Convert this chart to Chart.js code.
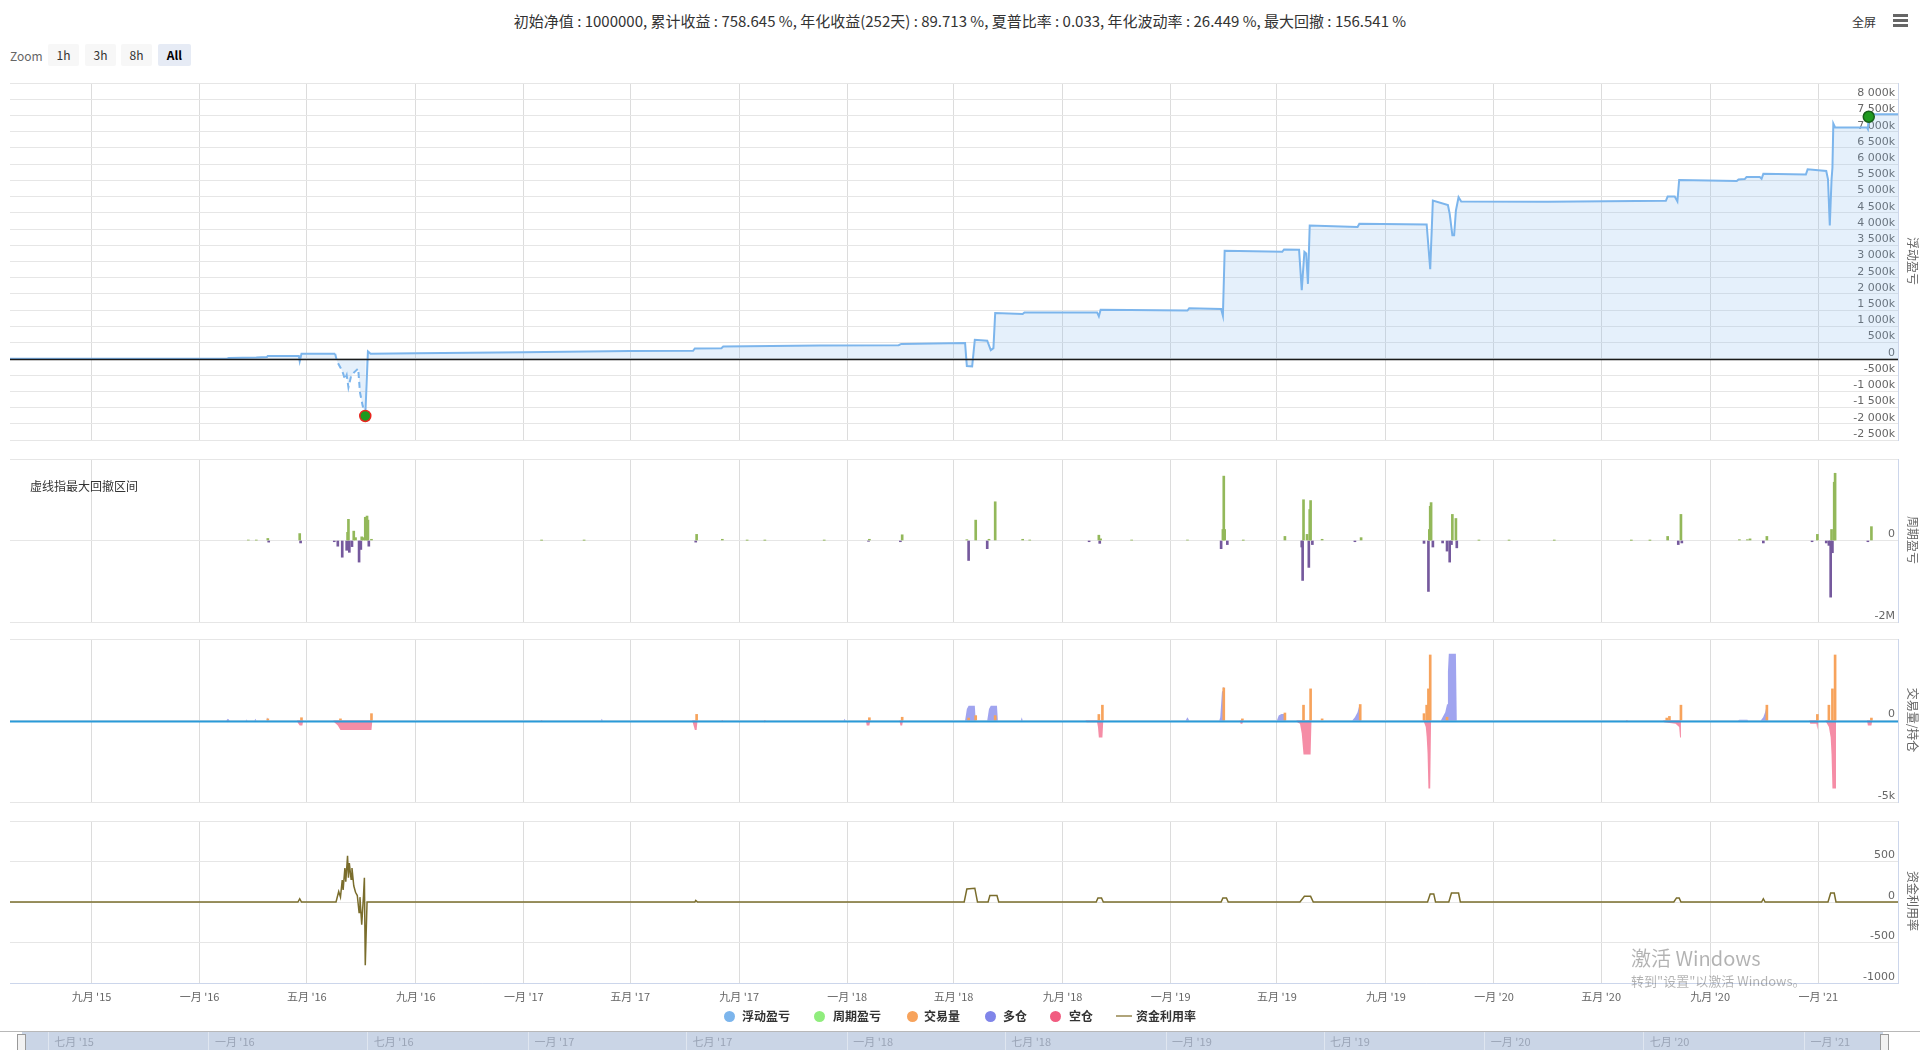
<!DOCTYPE html>
<html>
<head>
<meta charset="utf-8">
<script src="https://cdn.jsdelivr.net/npm/chart.js@4.4.1/dist/chart.umd.min.js"></script>
<style>
  html, body { margin: 0; padding: 0; width: 1920px; height: 1050px; overflow: hidden; background: #fff;
    font-family: "Noto Sans CJK SC", "Noto Sans", sans-serif; }
  canvas { position: absolute; left: 0; }
  .abs { position: absolute; white-space: nowrap; }
  .btn { position: absolute; top: 44px; height: 22px; line-height: 22px; background: #f7f7f7; color: #333;
    font-size: 12px; text-align: center; border-radius: 2px; }
  .ytitle { position: absolute; left: 1913px; font-size: 12px; color: #666; white-space: nowrap;
    transform: translate(-50%, -50%) rotate(90deg); }
  .dot { position: absolute; width: 11px; height: 11px; border-radius: 50%; top: 1011px; }
  .lg { position: absolute; top: 1007px; font-size: 12px; font-weight: bold; color: #333; line-height: 18px; }
</style>
</head>
<body>
<div class="abs" id="title" style="top:10px;left:0;width:1920px;text-align:center;font-size:15px;color:#333;"></div>
<div class="abs" style="top:13px;left:1852px;font-size:12px;color:#333;">全屏</div>
<div class="abs" style="top:14px;left:1893px;width:15px;height:3px;background:#666;"></div>
<div class="abs" style="top:19px;left:1893px;width:15px;height:3px;background:#666;"></div>
<div class="abs" style="top:24px;left:1893px;width:15px;height:3px;background:#666;"></div>

<div class="abs" style="top:47px;left:10px;font-size:12px;color:#666;">Zoom</div>
<div class="btn" style="left:48px;width:31px;">1h</div>
<div class="btn" style="left:85px;width:31px;">3h</div>
<div class="btn" style="left:121px;width:31px;">8h</div>
<div class="btn" style="left:158px;width:33px;background:#e6ebf5;font-weight:bold;color:#000;">All</div>

<canvas id="c1" width="1920" height="371" style="top:76px;"></canvas>
<canvas id="c2" width="1920" height="173" style="top:454px;"></canvas>
<canvas id="c3" width="1920" height="173" style="top:634px;"></canvas>
<canvas id="c4" width="1920" height="200" style="top:816px;"></canvas>
<canvas id="cn" width="1920" height="40" style="top:1031px;"></canvas>

<div class="abs" style="top:477px;left:30px;font-size:12px;color:#333;">虚线指最大回撤区间</div>

<div class="ytitle" style="top:261px;">浮动盈亏</div>
<div class="ytitle" style="top:540px;">周期盈亏</div>
<div class="ytitle" style="top:720px;">交易量/持仓</div>
<div class="ytitle" style="top:901px;">资金利用率</div>

<div class="dot" style="left:724px;background:#7cb5ec;"></div><div class="lg" style="left:742px;">浮动盈亏</div>
<div class="dot" style="left:814px;background:#90ed7d;"></div><div class="lg" style="left:833px;">周期盈亏</div>
<div class="dot" style="left:907px;background:#f7a35c;"></div><div class="lg" style="left:924px;">交易量</div>
<div class="dot" style="left:985px;background:#8085e9;"></div><div class="lg" style="left:1003px;">多仓</div>
<div class="dot" style="left:1050px;background:#f15c80;"></div><div class="lg" style="left:1069px;">空仓</div>
<div class="abs" style="top:1015px;left:1116px;width:16px;height:2px;background:#b0a47a;"></div><div class="lg" style="left:1136px;">资金利用率</div>

<div class="abs" style="top:943px;left:1631px;font-size:20px;color:rgba(0,0,0,0.3);">激活 Windows</div>
<div class="abs" style="top:971px;left:1631px;font-size:13px;color:rgba(0,0,0,0.3);">转到"设置"以激活 Windows。</div>

<div class="abs" style="top:1031px;left:0;width:1920px;height:1px;background:#b8b8b8;"></div>
<div class="abs" style="top:1034px;left:17px;width:7px;height:15px;background:#f2f2f2;border:1px solid #999;"></div>
<div class="abs" style="top:1034px;left:1880px;width:7px;height:15px;background:#f2f2f2;border:1px solid #999;"></div>

<script>
// ---- data ----
const titleText = "初始净值 : 1000000, 累计收益 : 758.645 %, 年化收益(252天) : 89.713 %, 夏普比率 : 0.033, 年化波动率 : 26.449 %, 最大回撤 : 156.541 %";

const xTickDates = ['2015-09-01','2016-01-01','2016-05-01','2016-09-01','2017-01-01','2017-05-01','2017-09-01','2018-01-01','2018-05-01','2018-09-01','2019-01-01','2019-05-01','2019-09-01','2020-01-01','2020-05-01','2020-09-01','2021-01-01'];
const xTickLabels = ["九月 '15","一月 '16","五月 '16","九月 '16","一月 '17","五月 '17","九月 '17","一月 '18","五月 '18","九月 '18","一月 '19","五月 '19","九月 '19","一月 '20","五月 '20","九月 '20","一月 '21"];
const navTickDates = ['2015-07-01','2016-01-01','2016-07-01','2017-01-01','2017-07-01','2018-01-01','2018-07-01','2019-01-01','2019-07-01','2020-01-01','2020-07-01','2021-01-01'];
const navTickLabels = ["七月 '15","一月 '16","七月 '16","一月 '17","七月 '17","一月 '18","七月 '18","一月 '19","七月 '19","一月 '20","七月 '20","一月 '21"];

// 浮动盈亏
const pnlDates = ['2015-06-01','2015-10-15','2016-01-31','2016-02-03','2016-03-05','2016-03-17','2016-03-18','2016-04-22','2016-04-23','2016-04-25',
  '2016-06-02','2016-06-04','2016-06-09','2016-06-11','2016-06-13','2016-06-15','2016-06-17','2016-06-20','2016-06-24','2016-06-28',
  '2016-06-30','2016-07-03','2016-07-06','2016-07-09','2016-07-12','2016-09-01','2017-01-01','2017-05-01','2017-07-11','2017-07-13',
  '2017-08-12','2017-08-14','2017-12-01','2018-02-28','2018-03-03','2018-05-14','2018-05-16','2018-05-22','2018-05-25','2018-06-08',
  '2018-06-12','2018-06-15','2018-06-17','2018-07-18','2018-07-20','2018-10-10','2018-10-12','2018-10-14','2019-01-20','2019-01-22',
  '2019-02-27','2019-03-01','2019-03-03','2019-05-07','2019-05-09','2019-05-26','2019-05-29','2019-06-01','2019-06-03','2019-06-05',
  '2019-06-07','2019-07-31','2019-08-02','2019-10-17','2019-10-21','2019-10-24','2019-11-10','2019-11-12','2019-11-15','2019-11-17',
  '2019-11-19','2019-11-22','2019-11-25','2020-03-01','2020-07-13','2020-07-15','2020-07-23','2020-07-26','2020-07-28','2020-10-01',
  '2020-10-03','2020-10-10','2020-10-12','2020-10-27','2020-10-29','2020-10-31','2020-12-18','2020-12-20','2021-01-10','2021-01-12',
  '2021-01-14','2021-01-16','2021-01-17','2021-01-18','2021-01-20','2021-02-25','2021-02-26','2021-02-27','2021-03-01','2021-04-01'];
const pnlValues = [0, 0, 0, 30000, 40000, 60000, 90000, 90000, -70000, 160000,
  160000, -70000, -320000, -450000, -630000, -500000, -880000, -530000, -400000, -300000,
  -1030000, -1440000, -1760000, 230000, 160000, 170000, 200000, 240000, 250000, 320000,
  330000, 380000, 410000, 420000, 460000, 490000, -220000, -230000, 590000, 560000,
  270000, 330000, 1410000, 1380000, 1430000, 1430000, 1310000, 1510000, 1490000, 1560000,
  1540000, 1330000, 3330000, 3300000, 3370000, 3360000, 2120000, 3300000, 3250000, 2310000,
  4110000, 4060000, 4160000, 4140000, 2760000, 4880000, 4740000, 4470000, 3810000, 3810000,
  4570000, 4980000, 4850000, 4840000, 4870000, 5000000, 5000000, 4850000, 5510000, 5480000,
  5530000, 5540000, 5600000, 5600000, 5550000, 5700000, 5680000, 5840000, 5790000, 5530000,
  4110000, 5530000, 5890000, 7250000, 7130000, 7130000, 7080000, 7460000, 7540000, 7540000];
// 最大回撤区间 (dashed) and its markers
const ddStart = '2016-06-02', ddEnd = '2016-07-06';
const markerDates = ['2016-07-06', '2021-02-27'];
const markerValues = [-1760000, 7460000];

// 周期盈亏
const cycleDates = ['2016-02-25','2016-03-05','2016-03-18','2016-03-19','2016-04-23','2016-04-24','2016-06-01','2016-06-05','2016-06-10','2016-06-15',
  '2016-06-16','2016-06-17','2016-06-18','2016-06-21','2016-06-23','2016-06-25','2016-06-29','2016-07-01','2016-07-02','2016-07-04',
  '2016-07-06','2016-07-08','2016-07-09','2016-07-10','2016-07-13','2017-01-21','2017-03-10','2017-07-14','2017-07-15','2017-08-13',
  '2017-09-10','2017-09-30','2017-12-06','2018-01-25','2018-01-26','2018-03-02','2018-03-04','2018-05-16','2018-05-18','2018-05-26',
  '2018-06-08','2018-06-10','2018-06-17','2018-07-18','2018-07-26','2018-10-01','2018-10-12','2018-10-13','2018-10-14','2018-11-18',
  '2019-01-20','2019-02-27','2019-03-01','2019-03-02','2019-03-03','2019-03-06','2019-03-24','2019-05-10','2019-05-29','2019-05-30',
  '2019-05-31','2019-06-04','2019-06-06','2019-06-07','2019-06-08','2019-06-10','2019-06-21','2019-07-28','2019-08-04','2019-10-14',
  '2019-10-19','2019-10-20','2019-10-21','2019-10-22','2019-10-24','2019-11-04','2019-11-09','2019-11-12','2019-11-14','2019-11-15',
  '2019-11-19','2019-11-20','2019-12-15','2020-01-18','2020-03-09','2020-06-04','2020-06-25','2020-07-15','2020-07-27','2020-07-30',
  '2020-07-31','2020-10-04','2020-10-13','2020-10-16','2020-10-31','2020-11-04','2020-12-25','2020-12-31','2021-01-10','2021-01-13',
  '2021-01-15','2021-01-16','2021-01-17','2021-01-19','2021-01-20','2021-02-26','2021-03-02'];
const cycleValues = [10000, 8000, 50000, -40000, 170000, -60000, -30000, -140000, -410000, -240000,
  200000, 520000, -290000, -150000, 230000, 70000, -530000, -220000, 90000, 70000,
  570000, 600000, 500000, -140000, 30000, 5000, 5000, -40000, 150000, 30000,
  5000, 5000, 5000, -20000, 30000, -30000, 140000, 20000, -490000, 500000,
  -200000, 30000, 950000, 30000, 8000, -30000, 130000, -70000, 40000, 8000,
  10000, -200000, 270000, 1580000, 270000, -100000, 5000, 100000, -160000, -980000,
  1000000, 150000, -660000, 760000, 980000, -100000, 30000, -30000, 70000, -70000,
  -1250000, 270000, 840000, 930000, -160000, -60000, -260000, -530000, -100000, 640000,
  540000, -180000, 5000, 5000, 5000, 3000, 3000, 100000, -100000, 640000,
  -60000, 20000, 20000, 40000, -60000, 100000, -30000, 150000, -60000, -120000,
  -1390000, 270000, -300000, 1430000, 1650000, -30000, 340000];

// 交易量
const volDates = ['2016-03-18','2016-04-25','2016-06-08','2016-07-13','2017-07-15','2018-01-26','2018-03-04','2018-05-18','2018-05-26','2018-06-17',
  '2018-10-12','2018-10-16','2019-03-02','2019-03-23','2019-05-10','2019-05-31','2019-06-08','2019-06-21','2019-08-03','2019-10-14',
  '2019-10-17','2019-10-19','2019-10-21','2019-11-09','2020-07-14','2020-07-17','2020-07-30','2020-11-04','2020-12-31','2021-01-13',
  '2021-01-17','2021-01-20','2021-03-02'];
const volValues = [100, 170, 100, 420, 375, 170, 200, 150, 300, 300,
  370, 940, 2000, 100, 460, 940, 1940, 100, 980, 420,
  940, 1940, 4020, 200, 150, 250, 940, 940, 370, 940,
  1940, 4020, 150];

// 多仓
const longDates = ['2015-06-01','2016-01-31','2016-02-02','2016-02-04','2016-02-22','2016-02-23','2016-02-24','2016-03-03','2016-03-04','2016-03-05',
  '2016-03-16','2016-03-17','2016-03-19','2017-03-29','2017-03-30','2017-03-31','2017-12-28','2017-12-29','2017-12-30','2018-05-14',
  '2018-05-16','2018-05-18','2018-05-25','2018-05-26','2018-06-08','2018-06-10','2018-06-12','2018-06-19','2018-06-20','2018-07-16',
  '2018-07-17','2018-07-18','2019-01-18','2019-01-20','2019-01-22','2019-02-25','2019-02-26','2019-02-27','2019-02-28','2019-03-01',
  '2019-03-02','2019-03-03','2019-05-01','2019-05-03','2019-05-06','2019-05-10','2019-05-11','2019-07-25','2019-07-28','2019-07-31',
  '2019-08-02','2019-08-03','2019-08-04','2019-11-02','2019-11-04','2019-11-07','2019-11-09','2019-11-10','2019-11-11','2019-11-19',
  '2019-11-20','2020-10-02','2020-10-04','2020-10-13','2020-10-14','2020-10-28','2020-10-31','2020-11-02','2020-11-04','2020-11-05',
  '2021-04-01'];
const longValues = [0, 0, 100, 0, 0, 60, 0, 0, 100, 0,
  0, 200, 0, 0, 100, 0, 0, 100, 0, 0,
  700, 900, 900, 0, 0, 700, 900, 900, 0, 0,
  200, 0, 0, 200, 0, 0, 200, 1000, 1800, 2040,
  2040, 0, 0, 300, 400, 400, 0, 0, 200, 500,
  940, 940, 0, 0, 200, 500, 1000, 3000, 4100, 4100,
  0, 0, 50, 50, 0, 0, 200, 500, 940, 0,
  0];

// 空仓
const shortDates = ['2015-06-01','2016-02-01','2016-02-02','2016-02-03','2016-04-20','2016-04-21','2016-04-23','2016-04-26','2016-04-27','2016-05-31',
  '2016-06-01','2016-06-05','2016-06-08','2016-07-13','2016-07-14','2017-01-20','2017-01-21','2017-01-22','2017-07-10','2017-07-11',
  '2017-07-13','2017-07-15','2017-07-16','2017-08-12','2017-08-13','2017-08-14','2017-09-29','2017-09-30','2017-10-01','2018-01-22',
  '2018-01-23','2018-01-26','2018-01-27','2018-03-01','2018-03-02','2018-03-04','2018-03-05','2018-09-27','2018-09-28','2018-10-10',
  '2018-10-11','2018-10-12','2018-10-16','2018-10-17','2019-03-20','2019-03-21','2019-03-23','2019-03-24','2019-05-23','2019-05-24',
  '2019-05-27','2019-05-29','2019-05-31','2019-06-08','2019-06-09','2019-10-13','2019-10-14','2019-10-16','2019-10-17','2019-10-18',
  '2019-10-19','2019-10-21','2019-10-22','2020-05-29','2020-05-30','2020-05-31','2020-07-10','2020-07-11','2020-07-24','2020-07-28',
  '2020-07-29','2020-07-30','2020-12-22','2020-12-23','2020-12-30','2020-12-31','2021-01-01','2021-01-09','2021-01-10','2021-01-13',
  '2021-01-15','2021-01-16','2021-01-17','2021-01-20','2021-01-21','2021-02-25','2021-02-26','2021-03-02','2021-03-03','2021-04-01'];
const shortValues = [0, 0, -100, 0, 0, -150, -310, -310, 0, 0,
  -100, -300, -580, -580, 0, 0, -60, 0, 0, -200,
  -580, -580, 0, 0, -60, 0, 0, -130, 0, 0,
  -300, -300, 0, 0, -300, -300, 0, 0, -100, -100,
  -400, -1040, -1040, 0, 0, -200, -200, 0, 0, -100,
  -200, -800, -2080, -2080, 0, 0, -100, -400, -1000, -2000,
  -4170, -4170, 0, 0, -100, 0, 0, -100, -200, -400,
  -1040, 0, 0, -200, -200, -580, 0, 0, -100, -400,
  -1040, -2080, -4170, -4170, 0, 0, -310, -310, 0, 0];

// 资金利用率
const useDates = ['2015-06-01','2016-04-21','2016-04-23','2016-04-25','2016-06-03','2016-06-06','2016-06-08','2016-06-10','2016-06-11','2016-06-13',
  '2016-06-14','2016-06-16','2016-06-17','2016-06-18','2016-06-20','2016-06-21','2016-06-23','2016-06-25','2016-06-27','2016-06-29',
  '2016-06-30','2016-07-02','2016-07-04','2016-07-05','2016-07-06','2016-07-08','2017-07-13','2017-07-14','2017-07-16','2018-05-13',
  '2018-05-16','2018-05-25','2018-05-28','2018-06-09','2018-06-11','2018-06-19','2018-06-21','2018-10-09','2018-10-11','2018-10-15',
  '2018-10-17','2019-02-27','2019-03-01','2019-03-05','2019-03-07','2019-05-27','2019-06-01','2019-06-08','2019-06-11','2019-10-18',
  '2019-10-21','2019-10-25','2019-10-27','2019-11-11','2019-11-14','2019-11-22','2019-11-24','2020-07-22','2020-07-25','2020-07-28',
  '2020-07-30','2020-10-29','2020-10-31','2020-11-02','2021-01-12','2021-01-15','2021-01-19','2021-01-21','2021-04-01'];
const useValues = [0, 0, 40, 0, 0, 130, 60, 270, 150, 420,
  250, 570, 300, 480, 280, 420, 200, 120, 80, -130,
  60, -280, 80, 300, -780, 0, 0, 20, 0, 0,
  160, 170, 0, 0, 80, 80, 0, 0, 50, 50,
  0, 0, 50, 50, 0, 0, 70, 70, 0, 0,
  100, 100, 0, 0, 110, 110, 0, 0, 50, 50,
  0, 0, 40, 0, 0, 110, 110, 0, 0];

// ---- helpers ----
const T = s => Date.parse(s + 'T00:00:00Z');
const pts = (dates, vals) => dates.map((d, i) => ({ x: T(d), y: vals[i] }));
const xMin = T('2015-06-01'), xMax = T('2021-04-01');

document.getElementById('title').textContent = titleText;

Chart.defaults.font.family = '"Noto Sans CJK SC", "Noto Sans", sans-serif';
Chart.defaults.animation = false;

const spaced = n => String(Math.abs(n)).replace(/\B(?=(\d{3})+(?!\d))/g, ' ');
const fmtK = v => v === 0 ? '0' : (v < 0 ? '-' : '') + spaced(v / 1000) + 'k';
const noPad = s => { s.paddingLeft = 0; s.paddingRight = 0; s.paddingTop = 0; s.paddingBottom = 0; };

// zero line drawn over the series (Highcharts plotLine look)
const zeroLine = {
  id: 'zeroLine',
  afterDatasetsDraw(chart, args, opts) {
    if (!opts.color) return;
    const a = chart.chartArea, y = Math.round(chart.scales.y.getPixelForValue(0)) + 0.5, ctx = chart.ctx;
    ctx.save(); ctx.strokeStyle = opts.color; ctx.lineWidth = opts.width || 1;
    ctx.beginPath(); ctx.moveTo(a.left, y); ctx.lineTo(a.right, y); ctx.stroke(); ctx.restore();
  }
};

function xAxis(showLabels) {
  return {
    type: 'linear', min: xMin, max: xMax, offset: false,
    afterBuildTicks: s => { s.ticks = xTickDates.map(d => ({ value: T(d) })); },
    afterFit: s => { s.height = showLabels ? 33 : 0; noPad(s); },
    grid: { color: '#dcdcdc', drawTicks: false, offset: false },
    border: { display: showLabels, color: '#ccd6eb' },
    ticks: { display: showLabels, autoSkip: false, maxRotation: 0, padding: 7, color: '#666', font: { size: 11 },
      callback: (v, i) => xTickLabels[i] }
  };
}

// right axis, labels mirrored inside the plot (right edge = axis x + padding)
function yAxis(min, max, step, fmt) {
  return {
    position: 'right', min, max,
    afterFit: s => { s.width = 0; noPad(s); },
    grid: { drawTicks: false, color: '#e6e6e6' },
    border: { display: true, color: '#ccd6eb' },
    ticks: { mirror: true, padding: -3, labelOffset: -6, stepSize: step, maxTicksLimit: 100, autoSkip: false,
      color: '#666', font: { size: 11, family: '"DejaVu Sans", "Noto Sans CJK SC", sans-serif' },
      callback: v => v === max ? '' : fmt(v) }
  };
}

const base = (bottom, zc, zw) => ({
  responsive: false, maintainAspectRatio: false, devicePixelRatio: 1, animation: false, events: [],
  layout: { padding: { left: 10, right: 22, top: 5, bottom: bottom } },
  plugins: { legend: { display: false }, tooltip: { enabled: false }, zeroLine: { color: zc, width: zw } }
});

// pane 1: 浮动盈亏
new Chart(document.getElementById('c1'), {
  type: 'line',
  data: { datasets: [
    { label: '最大回撤', data: pts(markerDates, markerValues), showLine: false, pointRadius: 5.5, pointBorderWidth: 1.5,
      pointBackgroundColor: '#1f9a1f', pointBorderColor: ['#e8251d', '#17601a'], order: 0 },
    { label: '浮动盈亏', data: pts(pnlDates, pnlValues), borderColor: '#7cb5ec', borderWidth: 2,
      backgroundColor: 'rgba(124,181,236,0.2)', fill: 'origin', pointRadius: 0, tension: 0, order: 1,
      segment: { borderDash: c => (c.p0.parsed.x >= T(ddStart) && c.p1.parsed.x <= T(ddEnd)) ? [6, 4] : undefined } }
  ] },
  options: Object.assign(base(5, '#1a1a1a', 1.5), { scales: {
    x: xAxis(false),
    y: yAxis(-2500000, 8500000, 500000, fmtK)
  } }),
  plugins: [zeroLine]
});

// pane 2: 周期盈亏
new Chart(document.getElementById('c2'), {
  type: 'bar',
  data: { datasets: [
    { label: '周期盈亏', data: pts(cycleDates, cycleValues), barThickness: 2, grouped: false,
      backgroundColor: c => (c.raw && c.raw.y < 0) ? '#75599d' : '#93b85a' }
  ] },
  options: Object.assign(base(5), { scales: {
    x: xAxis(false),
    y: yAxis(-2000000, 2000000, 2000000, v => v === 0 ? '0' : (v / 1000000) + 'M')
  } })
});

// pane 3: 交易量 / 多仓 / 空仓
new Chart(document.getElementById('c3'), {
  type: 'bar',
  data: { datasets: [
    { label: '交易量', data: pts(volDates, volValues), barThickness: 2, grouped: false, backgroundColor: '#f7a35c', order: 0 },
    { type: 'line', label: '多仓', data: pts(longDates, longValues), borderColor: 'rgba(0,0,0,0)', borderWidth: 1,
      backgroundColor: 'rgba(128,133,233,0.75)', fill: 'origin', pointRadius: 0, tension: 0, order: 1 },
    { type: 'line', label: '空仓', data: pts(shortDates, shortValues), borderColor: 'rgba(0,0,0,0)', borderWidth: 1,
      backgroundColor: 'rgba(241,92,128,0.7)', fill: 'origin', pointRadius: 0, tension: 0, order: 1 }
  ] },
  options: Object.assign(base(5, '#2a9ad8', 2), { scales: {
    x: xAxis(false),
    y: yAxis(-5000, 5000, 5000, v => v === 0 ? '0' : (v / 1000) + 'k')
  } }),
  plugins: [zeroLine]
});

// pane 4: 资金利用率
new Chart(document.getElementById('c4'), {
  type: 'line',
  data: { datasets: [
    { label: '资金利用率', data: pts(useDates, useValues), borderColor: '#7a6d2c', borderWidth: 1.5, pointRadius: 0, tension: 0 }
  ] },
  options: Object.assign(base(0), { scales: {
    x: xAxis(true),
    y: yAxis(-1000, 1000, 500, v => String(v))
  } })
});

// navigator strip
const navPlugin = {
  id: 'navStrip',
  beforeDraw(chart) {
    const a = chart.chartArea, ctx = chart.ctx;
    ctx.save(); ctx.fillStyle = '#cad5e6'; ctx.fillRect(a.left, a.top, a.right - a.left, a.bottom - a.top); ctx.restore();
  },
  afterDraw(chart) {
    const s = chart.scales.x, ctx = chart.ctx;
    ctx.save();
    ctx.font = '11px "Noto Sans CJK SC", "Noto Sans", sans-serif';
    ctx.fillStyle = '#9aa4b6'; ctx.textBaseline = 'middle'; ctx.textAlign = 'left';
    navTickDates.forEach((d, i) => ctx.fillText(navTickLabels[i], s.getPixelForValue(T(d)) + 6, 11));
    ctx.restore();
  }
};
new Chart(document.getElementById('cn'), {
  type: 'line',
  data: { datasets: [] },
  options: {
    responsive: false, maintainAspectRatio: false, devicePixelRatio: 1, animation: false, events: [],
    layout: { padding: { left: 22, right: 37, top: 0, bottom: 0 } },
    plugins: { legend: { display: false }, tooltip: { enabled: false } },
    scales: {
      x: { type: 'linear', min: xMin, max: xMax, offset: false,
        afterBuildTicks: s => { s.ticks = navTickDates.map(d => ({ value: T(d) })); },
        afterFit: s => { s.height = 0; noPad(s); },
        grid: { color: '#dfe6f0', drawTicks: false }, border: { display: false }, ticks: { display: false } },
      y: { display: false, min: 0, max: 1 }
    }
  },
  plugins: [navPlugin]
});
</script>
</body>
</html>
